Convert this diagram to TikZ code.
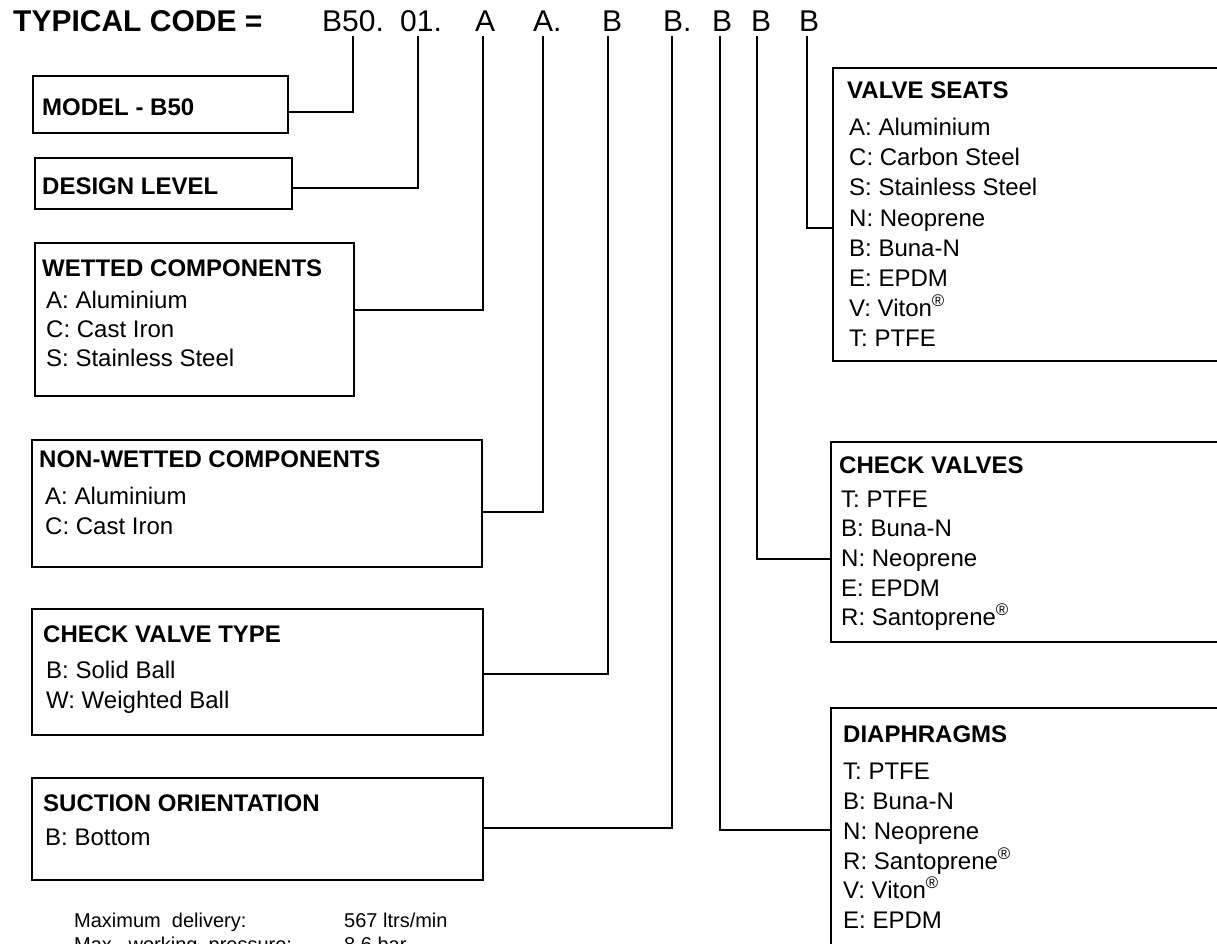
\documentclass[tikz,border=0pt]{standalone}
\usepackage{fontspec}
\setmainfont{Liberation Sans}
\newcommand{\regm}{\textsuperscript{®}}
\begin{document}
\begin{tikzpicture}[x=1pt,y=-1pt,
  box/.style={draw, line width=1.8pt, inner sep=0pt, outer sep=0pt, anchor=north west},
  conn/.style={line width=1.8pt},
  hd/.style={anchor=base west, inner sep=0pt, font=\bfseries\fontsize{24}{24}\selectfont},
  it/.style={anchor=base west, inner sep=0pt, font=\fontsize{24}{24}\selectfont},
  ttl/.style={anchor=base west, inner sep=0pt, font=\bfseries\fontsize{30}{30}\selectfont},
  cd/.style={anchor=base west, inner sep=0pt, font=\fontsize{30}{30}\selectfont},
  ft/.style={anchor=base west, inner sep=0pt, font=\fontsize{20}{20}\selectfont}]
\useasboundingbox (0,0) rectangle (1217,944);

% title and code
\node[ttl] (title) at (13,32) {TYPICAL CODE =};
\node[cd] (c1) at (322,32) {B50.};
\node[cd] (c2) at (400,32) {01.};
\node[cd] (c3) at (475,32) {A};
\node[cd] (c4) at (533,32) {A.};
\node[cd] (c5) at (602,32) {B};
\node[cd] (c6) at (663,32) {B.};
\node[cd] (c7) at (712,32) {B};
\node[cd] (c8) at (751,32) {B};
\node[cd] (c9) at (799,32) {B};

% boxes
\node[box, minimum width=255pt, minimum height=57pt] (model) at (33,76) {};
\node[box, minimum width=257pt, minimum height=51pt] (design) at (35,158) {};
\node[box, minimum width=319pt, minimum height=153pt] (wetted) at (35,243) {};
\node[box, minimum width=450pt, minimum height=127pt] (nonwet) at (32,440) {};
\node[box, minimum width=451pt, minimum height=126pt] (cvtype) at (32,609) {};
\node[box, minimum width=451pt, minimum height=102pt] (suction) at (32,778) {};
\node[box, minimum width=407pt, minimum height=293pt] (seats) at (833,68) {};
\node[box, minimum width=409pt, minimum height=200pt] (checkv) at (831,442) {};
\node[box, minimum width=409pt, minimum height=260pt] (diaph) at (831,708) {};

% box texts
\node[hd] (tmodel) at (42,116) {MODEL - B50};
\node[hd] (tdesign) at (42,194) {DESIGN LEVEL};

\node[hd] (twet) at (42,276) {WETTED COMPONENTS};
\node[it] (w1) at (46,308) {A: Aluminium};
\node[it] (w2) at (46,337) {C: Cast Iron};
\node[it] (w3) at (46,366) {S: Stainless Steel};

\node[hd] (tnon) at (39,467) {NON-WETTED COMPONENTS};
\node[it] (n1) at (45,504) {A: Aluminium};
\node[it] (n2) at (45,534) {C: Cast Iron};

\node[hd] (tcvt) at (43,642) {CHECK VALVE TYPE};
\node[it] (v1) at (46,678) {B: Solid Ball};
\node[it] (v2) at (46,708) {W: Weighted Ball};

\node[hd] (tsuc) at (43,811) {SUCTION ORIENTATION};
\node[it] (s1) at (45,845) {B: Bottom};

\node[hd] (tseats) at (847,99) {VALVE SEATS};
\node[it] (a1) at (849,136) {A: Aluminium};
\node[it] (a2) at (849,166) {C: Carbon Steel};
\node[it] (a3) at (849,196) {S: Stainless Steel};
\node[it] (a4) at (849,226) {N: Neoprene};
\node[it] (a5) at (849,256) {B: Buna-N};
\node[it] (a6) at (849,286) {E: EPDM};
\node[it] (a7) at (849,316) {V: Viton\regm};
\node[it] (a8) at (849,346) {T: PTFE};

\node[hd] (tcheck) at (839,473) {CHECK VALVES};
\node[it] (b1) at (841,507) {T: PTFE};
\node[it] (b2) at (841,536) {B: Buna-N};
\node[it] (b3) at (841,566) {N: Neoprene};
\node[it] (b4) at (841,596) {E: EPDM};
\node[it] (b5) at (841,625) {R: Santoprene\regm};

\node[hd] (tdia) at (843,742) {DIAPHRAGMS};
\node[it] (d1) at (843,779) {T: PTFE};
\node[it] (d2) at (843,809) {B: Buna-N};
\node[it] (d3) at (843,839) {N: Neoprene};
\node[it] (d4) at (843,869) {R: Santoprene\regm};
\node[it] (d5) at (843,898) {V: Viton\regm};
\node[it] (d6) at (843,928) {E: EPDM};

% footer
\node[ft] (f1) at (74,927) {Maximum\ \ delivery:};
\node[ft] (f2) at (344,927) {567 ltrs/min};
\node[ft] (f3) at (74,951) {Max.\ \ working\ \ pressure:};
\node[ft] (f4) at (344,951) {8.6 bar};

% connector coordinates
\coordinate (t1) at (353,36);  \coordinate (j1) at (353,112);
\coordinate (t2) at (418,36);  \coordinate (j2) at (418,188);
\coordinate (t3) at (483,36);  \coordinate (j3) at (483,310);
\coordinate (t4) at (543,36);  \coordinate (j4) at (543,512);
\coordinate (t5) at (608,36);  \coordinate (j5) at (608,674);
\coordinate (t6) at (672,36);  \coordinate (j6) at (672,828);
\coordinate (t7) at (807,36);  \coordinate (j7) at (807,228);
\coordinate (t8) at (757,36);  \coordinate (j8) at (757,559);
\coordinate (t9) at (720,36);  \coordinate (j9) at (720,830);

\draw[conn] (model.east |- j1) -- (j1) -- (t1);
\draw[conn] (design.east |- j2) -- (j2) -- (t2);
\draw[conn] (wetted.east |- j3) -- (j3) -- (t3);
\draw[conn] (nonwet.east |- j4) -- (j4) -- (t4);
\draw[conn] (cvtype.east |- j5) -- (j5) -- (t5);
\draw[conn] (suction.east |- j6) -- (j6) -- (t6);
\draw[conn] (t7) -- (j7) -- (seats.west |- j7);
\draw[conn] (t8) -- (j8) -- (checkv.west |- j8);
\draw[conn] (t9) -- (j9) -- (diaph.west |- j9);
\end{tikzpicture}
\end{document}
